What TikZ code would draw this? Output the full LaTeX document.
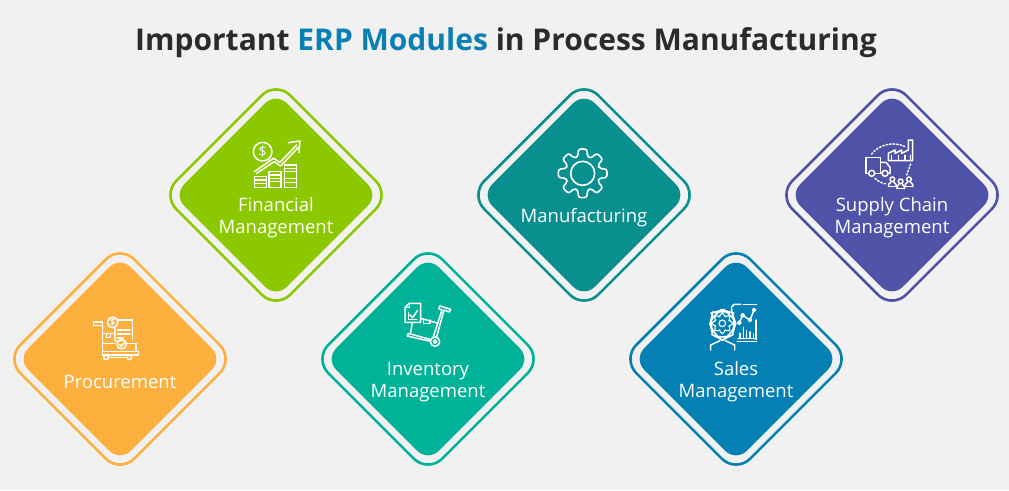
\documentclass[tikz,border=0pt]{standalone}
\usepackage{fontspec}
\setmainfont{Open Sans}
\definecolor{pagebg}{HTML}{F1F1F1}
\definecolor{titledark}{HTML}{2B2B2B}
\definecolor{erpblue}{HTML}{0A7FB5}
\definecolor{procorange}{HTML}{FDB03E}
\definecolor{fingreen}{HTML}{8CC800}
\definecolor{invteal}{HTML}{00B398}
\definecolor{mfgteal}{HTML}{0A8F8F}
\definecolor{salesblue}{HTML}{0580B5}
\definecolor{supplyblue}{HTML}{4F53A8}
\tikzset{
    modfill/.style={rectangle, rotate=45, inner sep=0pt, minimum size=145pt, rounded corners=15pt, fill=#1},
    modring/.style={rectangle, rotate=45, inner sep=0pt, minimum size=161pt, rounded corners=20pt, draw=#1, line width=2.6pt},
    modlabel/.style={text=white, align=center, font=\fontsize{18.5}{22}\selectfont},
    iconline/.style={draw=white, line width=1.5pt, line join=round, line cap=round},
    zoomed/.style={x=0.3333pt, y=-0.3333pt}
}
\begin{document}
\begin{tikzpicture}[x=1pt, y=-1pt]
    \fill[pagebg] (0,0) rectangle (1009,490);
    \useasboundingbox (0,0) rectangle (1009,490);
    \node[text=titledark, font=\fontsize{30}{36}\bfseries\selectfont] (title) at (506,43)
        {Important \textcolor{erpblue}{ERP Modules} in Process Manufacturing};
    \foreach \Point/\Tone/\Name in {(120,359)/procorange/proc, (276,195)/fingreen/fin, (428,359)/invteal/inv, (584,195)/mfgteal/mfg, (736,359)/salesblue/sales, (892,195)/supplyblue/supply}{
        \node[modring=\Tone] (\Name ring) at \Point {};
        \node[modfill=\Tone] (\Name) at \Point {};
    }
    \node[modlabel] (proclabel) at (120,382) {Procurement};
    \node[modlabel] (finlabel) at (276,218) {Financial\\Management};
    \node[modlabel] (invlabel) at (428,382) {Inventory\\Management};
    \node[modlabel] (mfglabel) at (584,218) {Manufacturing};
    \node[modlabel] (saleslabel) at (736,382) {Sales\\Management};
    \node[modlabel] (supplylabel) at (892,218) {Supply Chain\\Management};
    % procurement icon
    \begin{scope}[shift={(80,310)}, zoomed, iconline]
        \draw (62,47) -- (40,47) -- (40,36) -- (68,36) -- (68,135);
        \draw (68,135) -- (175,135) -- (175,124) -- (68,124);
        \draw (78,142) circle (7);
        \draw (148,142) circle (7);
        \draw (88,143) -- (138,143);
        \draw (98,37) circle (16);
        \node[text=white, font=\fontsize{9}{9}\bfseries\selectfont] (proccoin) at (98,37) {\$};
        \draw (114,30) -- (158,30) -- (158,88);
        \draw (105,53) -- (105,90) -- (112,96);
        \draw (112,60) -- (150,60);
        \draw (112,72) -- (150,72);
        \draw (112,84) -- (130,84);
        \draw (125,103) circle (14);
        \draw (118,103) -- (124,109) -- (133,98);
        \draw (68,70) -- (105,70);
        \draw (68,100) -- (105,100);
        \draw (140,100) -- (168,100) -- (168,124);
        \draw (80,70) -- (80,82) -- (92,82) -- (92,70);
    \end{scope}
    % financial icon
    \begin{scope}[shift={(225,130)}, zoomed, iconline]
        \draw (113,65) circle (28);
        \node[text=white, font=\fontsize{14}{14}\selectfont] (fincoin) at (113,65) {\$};
        \draw (88,125) -- (145,85) -- (165,97) -- (215,45);
        \draw (95,130) -- (147,95) -- (167,108) -- (222,50);
        \draw (190,38) -- (225,33) -- (222,68);
        \foreach \Left/\Top in {88/140, 132/125, 178/105}{
            \draw (\Left,\Top) rectangle (\Left+36,172);
            \draw (\Left,\Top+10) -- (\Left+36,\Top+10);
            \draw (\Left,\Top+20) -- (\Left+36,\Top+20);
        }
        \draw (132,155) -- (168,155);
        \draw (178,145) -- (214,145);
        \draw (178,158) -- (214,158);
    \end{scope}
    % inventory icon
    \begin{scope}[shift={(380,290)}, zoomed, iconline]
        \draw (88,40) -- (122,40) -- (122,97) -- (75,97) -- (75,52) -- cycle;
        \draw (88,40) -- (88,52) -- (75,52);
        \draw (90,75) -- (98,83) -- (112,62);
        \draw (85,68) -- (85,88) -- (110,88);
        \draw (122,85) -- (175,100);
        \draw (130,87) -- (130,100) -- (150,100) -- (150,90);
        \draw (97,97) -- (92,128);
        \draw (85,130) -- (150,148) -- (146,153) -- (82,138) -- cycle;
        \draw (180,48) -- (212,58) -- (208,66) -- (192,60) -- (170,140);
        \draw (180,48) -- (176,56) -- (186,60) -- (160,140);
        \draw (165,155) circle (14);
        \draw (165,155) circle (5);
    \end{scope}
    % manufacturing icon
    \begin{scope}[shift={(535,135)}, zoomed, iconline, line width=1.6pt]
        \draw (143,115) circle (36);
        \draw[rounded corners=2.5pt, shift={(143,115)}] (-16:52)
            \foreach \Angle in {0,45,...,315}{
                -- (\Angle-16:52) -- (\Angle-10:74) -- (\Angle+10:74) -- (\Angle+16:52)
            } -- cycle;
    \end{scope}
    % sales icon
    \begin{scope}[shift={(690,290)}, zoomed, iconline]
        \draw[rounded corners=12pt] (97,60) -- (127,68) -- (137,100) -- (127,135) -- (97,150) -- (68,135) -- (60,100) -- (68,68) -- cycle;
        \draw (62,180) -- (62,165) -- (90,152);
        \draw (134,180) -- (134,165) -- (106,152);
        \draw[line width=1.1pt] (97,100) circle (10);
        \draw[line width=1.1pt, rounded corners=1.5pt, shift={(97,100)}] (-14:22)
            \foreach \Angle in {0,45,...,315}{
                -- (\Angle-14:22) -- (\Angle-9:31) -- (\Angle+9:31) -- (\Angle+14:22)
            } -- cycle;
        \draw (125,65) -- (125,50) -- (133,43) -- (152,43);
        \draw (160,43) -- (200,43);
        \draw (198,90) -- (198,148);
        \draw (142,155) -- (200,155);
        \draw (148,98) -- (158,76) -- (180,90) -- (192,60);
        \foreach \Dot in {(148,98), (158,76), (180,90), (192,60)}{
            \draw[fill=salesblue] \Dot circle (5);
        }
        \foreach \Bar/\Top in {150/130, 160/112, 170/122, 180/126, 190/132}{
            \draw (\Bar,146) -- (\Bar,\Top);
        }
        \draw (144,146) -- (194,146);
    \end{scope}
    % supply chain icon
    \begin{scope}[shift={(840,130)}, zoomed, iconline]
        \draw (85,130) -- (78,130) -- (78,82) -- (122,82) -- (122,130);
        \draw (105,130) -- (125,130);
        \draw (122,97) -- (138,97) -- (150,112) -- (150,130) -- (145,130);
        \draw (95,130) circle (9);
        \draw (135,130) circle (9);
        \draw (145,92) -- (145,70) -- (165,60) -- (165,70) -- (185,60) -- (185,70) -- (205,60) -- (205,30) -- (218,30) -- (218,92) -- cycle;
        \draw (155,76) -- (155,88);
        \draw (175,76) -- (175,88);
        \draw (195,76) -- (195,88);
        \draw (211,76) -- (211,88);
        \draw[dotted, line width=1.5pt] (95,72) .. controls (115,45) and (160,32) .. (195,50);
        \draw[dotted, line width=1.5pt] (212,102) -- (200,135);
        \draw[dotted, line width=1.5pt] (105,145) .. controls (115,155) and (130,162) .. (142,162);
        \foreach \Man/\Head in {157/148, 182/154, 207/148}{
            \draw (\Man,\Head) circle (7);
            \draw (\Man-11,\Head+22) -- (\Man-11,\Head+15) -- (\Man-5,\Head+9);
            \draw (\Man+11,\Head+22) -- (\Man+11,\Head+15) -- (\Man+5,\Head+9);
            \draw (\Man-11,\Head+22) -- (\Man+11,\Head+22);
        }
    \end{scope}
\end{tikzpicture}
\end{document}
